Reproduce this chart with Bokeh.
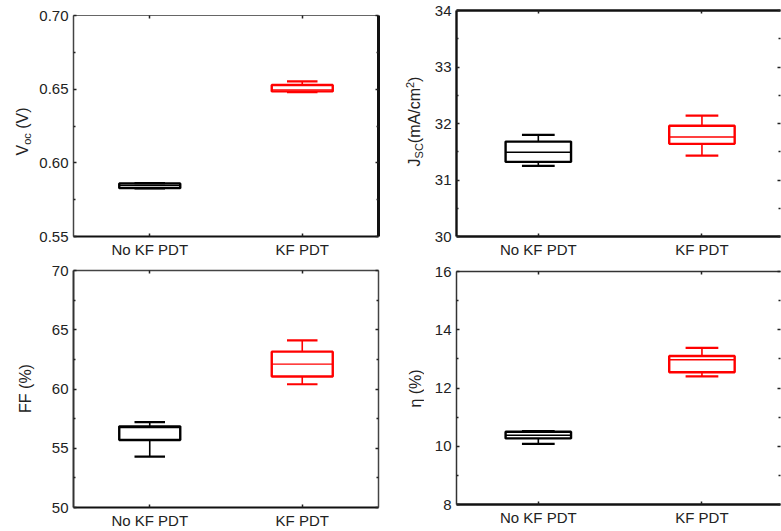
import math

from bokeh.plotting import figure
from bokeh.layouts import column, row
from bokeh.models import (Range1d, LinearAxis, FixedTicker, NumeralTickFormatter,
                          ColumnDataSource)
from bokeh.core.properties import value
from bokeh.embed import file_html
from bokeh.resources import INLINE

# ---- data -------------------------------------------------------------
groups = ["No KF PDT", "KF PDT"]
colors = ["#000000", "#ff0000"]

# Open-circuit voltage Voc (V)
voc_lo = [0.5826, 0.6480]
voc_q1 = [0.5828, 0.6485]
voc_med = [0.5845, 0.6495]
voc_q3 = [0.5860, 0.6528]
voc_hi = [0.5862, 0.6553]

# Short-circuit current density Jsc (mA/cm2)
jsc_lo = [31.25, 31.43]
jsc_q1 = [31.32, 31.64]
jsc_med = [31.49, 31.76]
jsc_q3 = [31.68, 31.96]
jsc_hi = [31.80, 32.14]

# Fill factor FF (%)
ff_lo = [54.3, 60.4]
ff_q1 = [55.7, 61.05]
ff_med = [56.75, 62.1]
ff_q3 = [56.85, 63.15]
ff_hi = [57.2, 64.1]

# Efficiency eta (%)
eta_lo = [10.08, 12.40]
eta_q1 = [10.27, 12.54]
eta_med = [10.38, 12.97]
eta_q3 = [10.50, 13.10]
eta_hi = [10.52, 13.38]

# ---- styling helpers --------------------------------------------------
FONT = "Liberation Sans"
TICK_PX = 15
LABEL_PX = 16
TEXT_C = "#222222"

# Arial / Liberation Sans advance widths (em) used to stack label pieces
CHAR_W = {"V": 0.667, "o": 0.556, "c": 0.5, " ": 0.278, "(": 0.333, ")": 0.333,
          "J": 0.5, "S": 0.667, "C": 0.722, "m": 0.833, "A": 0.667, "/": 0.278,
          "2": 0.556, "F": 0.611, "%": 0.889, "\u03b7": 0.556}


def text_width(s, size):
    return sum(CHAR_W.get(ch, 0.6) for ch in s) * size


def label_strip(width, height, pieces, cx, cy):
    """Narrow figure holding a vertical axis title built from
    (text, font px, shift px) pieces; coordinates are pixels.
    A positive shift moves a piece towards the plot (subscript)."""
    f = figure(width=width, height=height, output_backend="svg",
               toolbar_location=None, x_range=Range1d(0, width),
               y_range=Range1d(0, height), x_axis_type=None, y_axis_type=None,
               min_border=0, outline_line_color=None,
               background_fill_color="white", border_fill_color="white")
    total = sum(text_width(t, s) for t, s, _ in pieces)
    y = cy - total / 2
    xs, ys, texts, sizes = [], [], [], []
    for t, s, shift in pieces:
        lead = len(t) - len(t.lstrip(" "))
        y += text_width(" " * lead, s)
        t = t.lstrip(" ")
        xs.append(cx + shift)
        ys.append(y)
        texts.append(t)
        sizes.append(f"{s}px")
        y += text_width(t, s)
    f.text(x=xs, y=ys, text=texts, text_font_size=sizes, angle=math.pi / 2,
           text_font=value(FONT), text_align="left", text_baseline="middle",
           text_color=TEXT_C)
    return f


def style_axis(ax, line_w, line_c, labels=True):
    ax.axis_line_width = line_w
    ax.axis_line_color = line_c
    ax.major_tick_in = 3
    ax.major_tick_out = 0
    ax.minor_tick_in = 2
    ax.minor_tick_out = 0
    ax.major_tick_line_color = "#222222"
    ax.minor_tick_line_color = "#222222"
    ax.major_tick_line_width = 1.5
    ax.minor_tick_line_width = 1.5
    if labels:
        ax.major_label_text_font = FONT
        ax.major_label_text_font_size = f"{TICK_PX}px"
        ax.major_label_text_color = TEXT_C
        ax.major_label_standoff = 5
    else:
        ax.major_label_text_font_size = "0px"
        ax.major_label_text_color = None
        ax.major_label_standoff = 0


def make_panel(lo, q1, med, q3, hi, y0, y1, step, fmt, width, height,
               borders, xend, sides):
    xpos = [i + 0.5 for i in range(len(groups))]
    box_w = 0.4
    cap_w = 0.2
    left_b, right_b, top_b, bottom_b = borders
    p = figure(width=width, height=height, output_backend="svg",
               toolbar_location=None,
               x_range=Range1d(0, xend), y_range=Range1d(y0, y1),
               min_border_left=left_b, min_border_right=right_b,
               min_border_top=top_b, min_border_bottom=bottom_b,
               outline_line_color=None, background_fill_color="white",
               border_fill_color="white")
    p.xgrid.visible = False
    p.ygrid.visible = False

    n = int(round((y1 - y0) / step))
    majors = [round(y0 + i * step, 6) for i in range(n + 1)]
    minors = [round(y0 + (i + 0.5) * step, 6) for i in range(n)]
    yticker = FixedTicker(ticks=majors, minor_ticks=minors)
    xticker = FixedTicker(ticks=xpos)

    # bottom axis with group names
    bx = p.xaxis[0]
    bx.ticker = xticker
    bx.major_label_overrides = {x: g for x, g in zip(xpos, groups)}
    style_axis(bx, *sides["bottom"])
    bx.major_label_standoff = 4

    # left axis with values
    ly = p.yaxis[0]
    ly.ticker = yticker
    ly.formatter = NumeralTickFormatter(format=fmt)
    style_axis(ly, *sides["left"])

    # mirrored axes on top and right (ticks only)
    tx = LinearAxis(ticker=xticker)
    style_axis(tx, *sides["top"], labels=False)
    p.add_layout(tx, "above")
    ry = LinearAxis(ticker=yticker)
    style_axis(ry, *sides["right"], labels=False)
    p.add_layout(ry, "right")

    src = ColumnDataSource(dict(
        x=xpos, lo=lo, q1=q1, med=med, q3=q3, hi=hi, color=colors,
        bl=[x - box_w / 2 for x in xpos], br=[x + box_w / 2 for x in xpos],
        cl=[x - cap_w / 2 for x in xpos], cr=[x + cap_w / 2 for x in xpos]))

    # whiskers
    p.segment(x0="x", y0="q3", x1="x", y1="hi", line_color="color",
              line_width=1.6, source=src)
    p.segment(x0="x", y0="lo", x1="x", y1="q1", line_color="color",
              line_width=1.6, source=src)
    # interquartile box
    p.vbar(x="x", width=box_w, bottom="q1", top="q3", fill_color="white",
           line_color="color", line_width=2.4, source=src)
    # median
    p.segment(x0="bl", y0="med", x1="br", y1="med", line_color="color",
              line_width=1.4, source=src)
    # caps
    p.segment(x0="cl", y0="hi", x1="cr", y1="hi", line_color="color",
              line_width=2.2, source=src)
    p.segment(x0="cl", y0="lo", x1="cr", y1="lo", line_color="color",
              line_width=2.2, source=src)
    return p


p1 = make_panel(voc_lo, voc_q1, voc_med, voc_q3, voc_hi, 0.55, 0.70, 0.05, "0.00",
                width=354, height=260, borders=(36, 12, 15, 23), xend=2.0,
                sides={"bottom": (2.2, "#111111"), "left": (1.5, "#444444"),
                       "top": (1.2, "#666666"), "right": (3.0, "#111111")})
l1 = label_strip(36, 260, [("V", LABEL_PX, 0), ("oc", 11, 4), (" (V)", LABEL_PX, 0)],
                 22, 129)

p3 = make_panel(ff_lo, ff_q1, ff_med, ff_q3, ff_hi, 50, 70, 5, "0",
                width=354, height=271, borders=(36, 12, 10, 23), xend=2.0,
                sides={"bottom": (2.2, "#111111"), "left": (2.0, "#333333"),
                       "top": (1.5, "#444444"), "right": (1.5, "#444444")})
l3 = label_strip(36, 271, [("FF (%)", LABEL_PX, 0)], 25, 143)

p2 = make_panel(jsc_lo, jsc_q1, jsc_med, jsc_q3, jsc_hi, 30, 34, 1, "0",
                width=357, height=260, borders=(32, 1, 10, 23), xend=1.98,
                sides={"bottom": (2.4, "#111111"), "left": (2.4, "#111111"),
                       "top": (2.4, "#111111"), "right": (0, None)})
l2 = label_strip(34, 260, [("J", LABEL_PX, 0), ("SC", 11, 4), ("(mA/cm", LABEL_PX, 0),
                           ("2", 11, -5), (")", LABEL_PX, 0)], 24, 139)

p4 = make_panel(eta_lo, eta_q1, eta_med, eta_q3, eta_hi, 8, 16, 2, "0",
                width=357, height=271, borders=(32, 1, 11, 27), xend=1.98,
                sides={"bottom": (2.4, "#111111"), "left": (1.5, "#333333"),
                       "top": (1.5, "#333333"), "right": (0, None)})
l4 = label_strip(34, 271, [("\u03b7 (%)", LABEL_PX, 0)], 25, 143)

layout = row(column(l1, l3), column(p1, p3), column(l2, l4), column(p2, p4))

with open("out.html", "w") as f:
    f.write(file_html(layout, INLINE))
